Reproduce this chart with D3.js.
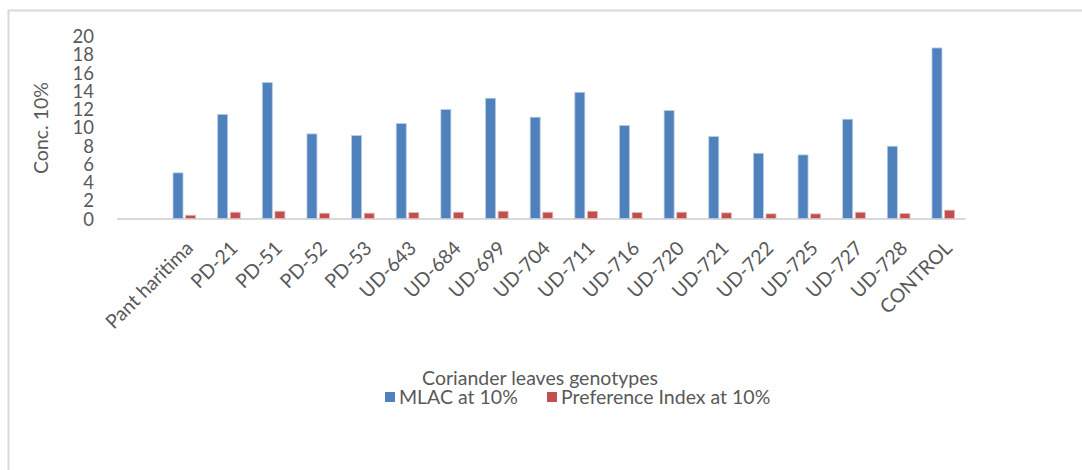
<!DOCTYPE html>
<html>
<head>
<meta charset="utf-8">
<script src="https://cdn.jsdelivr.net/npm/d3@7"></script>
<style>
html,body{margin:0;padding:0;background:#fff;}
svg text{font-family:Lato,"Liberation Sans",Arial,sans-serif;fill:#595959;}
</style>
</head>
<body>
<svg id="chart" width="1082" height="470"></svg>
<script>
const categories = ["Pant haritima","PD-21","PD-51","PD-52","PD-53","UD-643","UD-684","UD-699","UD-704","UD-711","UD-716","UD-720","UD-721","UD-722","UD-725","UD-727","UD-728","CONTROL"];
const mlac = [5.0,11.4,14.9,9.27,9.09,10.4,11.94,13.18,11.1,13.83,10.19,11.83,8.98,7.15,6.97,10.88,7.92,18.69];
const prefIndex = [0.36,0.69,0.8,0.58,0.58,0.65,0.69,0.8,0.69,0.8,0.65,0.69,0.62,0.51,0.51,0.69,0.55,0.91];
const yTicks = [0,2,4,6,8,10,12,14,16,18,20];
const seriesNames = ["MLAC at 10%","Preference Index at 10%"];
const colors = ["#4F81BD","#C0504D"];

const svg = d3.select("#chart");

// chart border
svg.append("rect").attr("x",8.5).attr("y",10.5).attr("width",1090).attr("height",480)
  .attr("fill","none").attr("stroke","#d9d9d9").attr("stroke-width",2);

const plotLeft = 117, plotRight = 965.6, y0 = 218.5;
const x = d3.scaleBand().domain(categories).range([162, plotRight]).paddingInner(0).paddingOuter(0);
const y = d3.scaleLinear().domain([0,20]).range([y0, 36]);

const barW = 10, gap = 2.6;

// baseline
svg.append("line").attr("x1",plotLeft).attr("x2",plotRight).attr("y1",y0+0.5).attr("y2",y0+0.5)
  .attr("stroke","#d9d9d9").attr("stroke-width",2);

const series = [mlac, prefIndex];
series.forEach((vals, si) => {
  svg.append("g").selectAll("rect").data(categories).join("rect")
    .attr("x", (c) => x(c) + x.bandwidth()/2 - (barW + gap/2) + si*(barW+gap))
    .attr("y", (c,i) => y(vals[i]))
    .attr("width", barW)
    .attr("height", (c,i) => y0 - y(vals[i]))
    .attr("fill", colors[si])
    .attr("stroke", si===0 ? "#b9cde5" : "#e6b9b8")
    .attr("stroke-width", 0.8);
});

// y axis (labels only)
const yAxis = d3.axisLeft(y).tickValues(yTicks).tickSize(0).tickPadding(0);
const gy = svg.append("g").attr("transform","translate(94,0)").call(yAxis);
gy.select(".domain").remove();
gy.selectAll("text").style("font-size","18.5px").attr("dy","0.36em").attr("fill","#595959");

// y title
svg.append("text").attr("transform","translate(48,128) rotate(-90)")
  .attr("text-anchor","middle").style("font-size","19.5px").text("Conc. 10%");

// x axis labels
const xAxis = d3.axisBottom(x).tickSize(0).tickPadding(0);
const gx = svg.append("g").attr("transform",`translate(0,${y0})`).call(xAxis);
gx.select(".domain").remove();
gx.selectAll("text")
  .style("font-size","19.5px").attr("fill","#595959")
  .attr("text-anchor","end")
  .attr("dy",0).attr("y",0)
  .attr("transform","translate(10,31) rotate(-45)");

// x title
svg.append("text").attr("x",540).attr("y",385).attr("text-anchor","middle")
  .style("font-size","19.5px").text("Coriander leaves genotypes");

// legend
const legX = [385, 547];
seriesNames.forEach((n,i) => {
  svg.append("rect").attr("x",legX[i]).attr("y",392).attr("width",10).attr("height",10).attr("fill",colors[i]);
  svg.append("text").attr("x",legX[i]+14).attr("y",403.5).style("font-size","19.5px").text(n);
});
</script>
</body>
</html>
